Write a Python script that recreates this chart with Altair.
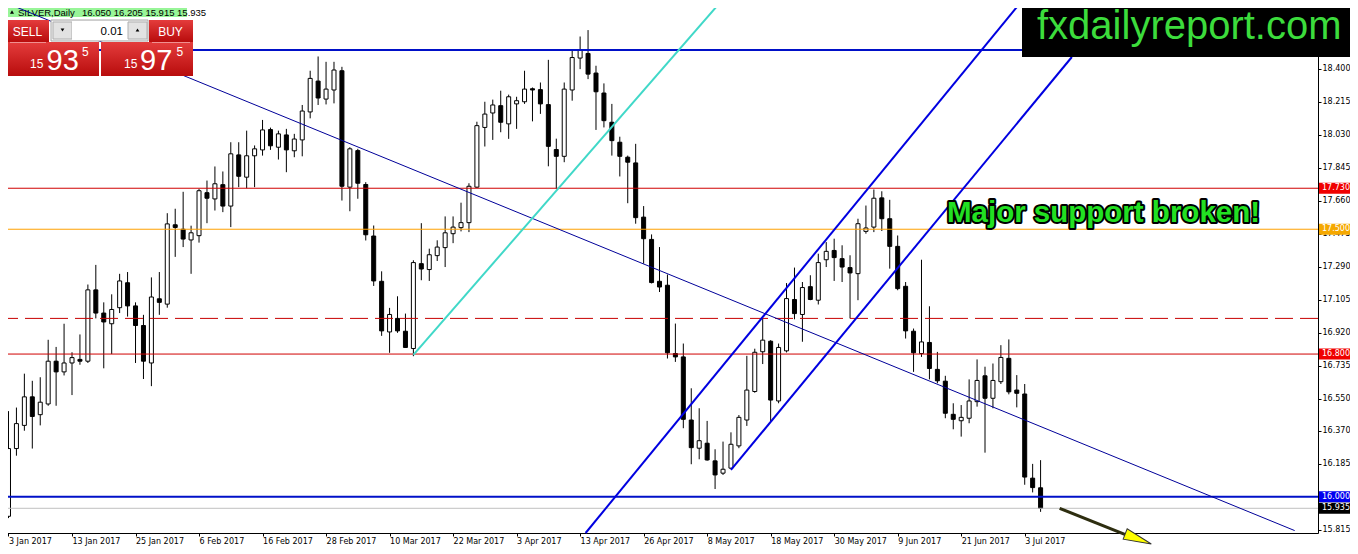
import altair as alt
import pandas as pd

# ---------------- data ----------------
opens = [15.89, 16.27, 16.40, 16.56, 16.46, 16.52, 16.76, 16.70, 16.75, 16.77,
         16.76, 17.16, 17.03, 16.97, 17.06, 17.20, 17.07, 16.96, 16.75, 17.11,
         17.08, 17.525, 17.50, 17.44, 17.464, 17.705, 17.67, 17.75, 17.63, 17.917,
         17.792, 17.912, 17.945, 18.059, 17.96, 18.029, 17.94, 18.001, 18.158, 18.331,
         18.23, 18.281, 18.389, 17.736, 17.941, 17.751, 17.462, 17.208, 16.924, 17.00,
         16.928, 16.831, 17.307, 17.274, 17.352, 17.397, 17.475, 17.509, 17.537, 17.736,
         18.071, 18.152, 18.193, 18.091, 18.203, 18.215, 18.288, 18.283, 18.199, 17.947,
         17.909, 18.281, 18.46, 18.486, 18.376, 18.264, 18.10, 17.988, 17.904, 17.872,
         17.568, 17.443, 17.208, 17.186, 16.803, 16.784, 16.43, 16.272, 16.30, 16.201,
         16.132, 16.16, 16.285, 16.43, 16.59, 16.813, 16.872, 16.537, 16.818, 17.106,
         17.022, 17.178, 17.102, 17.329, 17.381, 17.335, 17.285, 17.251, 17.488, 17.512,
         17.676, 17.559, 17.404, 17.18, 16.928, 16.803, 16.865, 16.714, 16.648, 16.462,
         16.426, 16.44, 16.533, 16.678, 16.552, 16.645, 16.776, 16.598, 16.576, 16.104,
         16.05]
highs = [16.48, 16.50, 16.69, 16.65, 16.67, 16.88, 16.84, 16.97, 16.81, 16.91,
         17.19, 17.30, 17.09, 17.135, 17.25, 17.26, 17.09, 17.02, 17.23, 17.26,
         17.59, 17.615, 17.71, 17.52, 17.727, 17.773, 17.852, 17.824, 17.988, 17.988,
         18.053, 17.97, 18.113, 18.07, 18.053, 18.063, 18.035, 18.197, 18.389, 18.469,
         18.439, 18.439, 18.411, 17.96, 17.951, 17.764, 17.521, 17.264, 17.059, 17.124,
         17.027, 17.326, 17.534, 17.391, 17.438, 17.572, 17.572, 17.649, 17.758, 18.103,
         18.215, 18.227, 18.277, 18.255, 18.243, 18.389, 18.295, 18.323, 18.45, 18.008,
         18.323, 18.51, 18.581, 18.617, 18.417, 18.318, 18.203, 18.019, 17.913, 17.979,
         17.63, 17.471, 17.40, 17.246, 16.971, 16.859, 16.608, 16.496, 16.425, 16.266,
         16.309, 16.361, 16.458, 16.79, 16.83, 16.999, 16.878, 16.859, 17.198, 17.285,
         17.204, 17.242, 17.363, 17.428, 17.447, 17.41, 17.354, 17.559, 17.633, 17.723,
         17.713, 17.665, 17.465, 17.204, 16.943, 17.329, 17.068, 16.812, 16.678, 16.524,
         16.514, 16.658, 16.77, 16.729, 16.747, 16.85, 16.882, 16.682, 16.632, 16.184,
         16.205]
lows = [15.88, 16.23, 16.37, 16.27, 16.40, 16.51, 16.51, 16.68, 16.57, 16.74,
        16.75, 17.00, 16.72, 16.80, 17.03, 17.01, 16.75, 16.66, 16.62, 17.02,
        17.06, 17.345, 17.40, 17.25, 17.425, 17.534, 17.605, 17.596, 17.512, 17.736,
        17.73, 17.736, 17.913, 17.945, 17.891, 17.82, 17.904, 17.909, 18.122, 18.197,
        18.20, 18.206, 17.661, 17.601, 17.671, 17.437, 17.182, 16.902, 16.807, 16.919,
        16.837, 16.788, 17.214, 17.21, 17.322, 17.288, 17.422, 17.488, 17.484, 17.732,
        17.964, 18.001, 18.044, 18.007, 18.063, 18.203, 18.105, 18.147, 17.853, 17.727,
        17.876, 18.221, 18.398, 18.342, 18.057, 18.071, 17.913, 17.796, 17.646, 17.531,
        17.307, 17.196, 17.148, 16.775, 16.756, 16.384, 16.182, 16.21, 16.202, 16.043,
        16.122, 16.156, 16.272, 16.397, 16.583, 16.744, 16.421, 16.524, 16.809, 16.995,
        16.869, 17.102, 17.078, 17.288, 17.21, 17.204, 17.00, 17.102, 17.475, 17.484,
        17.49, 17.279, 17.158, 16.887, 16.70, 16.784, 16.658, 16.636, 16.44, 16.378,
        16.337, 16.412, 16.505, 16.247, 16.496, 16.632, 16.574, 16.501, 16.067, 16.024,
        15.915]
closes = [16.27, 16.41, 16.56, 16.45, 16.53, 16.76, 16.70, 16.75, 16.78, 16.76,
          17.16, 17.03, 16.98, 17.05, 17.21, 17.07, 16.96, 16.76, 17.12, 17.09,
          17.53, 17.51, 17.445, 17.48, 17.716, 17.674, 17.755, 17.63, 17.923, 17.797,
          17.912, 17.951, 18.057, 17.968, 18.035, 17.945, 18.006, 18.163, 18.346, 18.236,
          18.286, 18.393, 17.741, 17.951, 17.758, 17.469, 17.21, 16.93, 17.022, 16.93,
          16.837, 17.313, 17.277, 17.357, 17.40, 17.48, 17.512, 17.537, 17.741, 18.081,
          18.146, 18.197, 18.10, 18.243, 18.221, 18.286, 18.281, 18.203, 17.965, 17.909,
          18.286, 18.463, 18.508, 18.37, 18.271, 18.109, 17.997, 17.909, 17.876, 17.565,
          17.447, 17.201, 17.176, 16.807, 16.784, 16.434, 16.275, 16.314, 16.206, 16.122,
          16.154, 16.294, 16.445, 16.598, 16.81, 16.878, 16.542, 16.837, 17.111, 17.027,
          17.173, 17.106, 17.313, 17.376, 17.341, 17.288, 17.255, 17.531, 17.507, 17.674,
          17.559, 17.404, 17.167, 16.93, 16.807, 16.868, 16.719, 16.65, 16.468, 16.434,
          16.445, 16.537, 16.652, 16.552, 16.652, 16.781, 16.588, 16.58, 16.11, 16.051,
          15.935]

date_labels = ["3 Jan 2017", "13 Jan 2017", "25 Jan 2017", "6 Feb 2017", "16 Feb 2017",
               "28 Feb 2017", "10 Mar 2017", "22 Mar 2017", "3 Apr 2017", "13 Apr 2017",
               "26 Apr 2017", "8 May 2017", "18 May 2017", "30 May 2017", "9 Jun 2017",
               "21 Jun 2017", "3 Jul 2017"]
date_tick_bars = [8 * k for k in range(len(date_labels))]

price_ticks = [18.400, 18.215, 18.030, 17.845, 17.660, 17.475, 17.290, 17.105,
               16.920, 16.735, 16.550, 16.370, 16.185, 16.000, 15.815]

level_prices = [18.505, 17.730, 17.500, 16.800, 16.000, 15.935]
level_colors = ["#0010C8", "#D00000", "#FFA000", "#D00000", "#0010C8", "#C0C0C0"]
level_widths = [2, 1, 1, 1, 2, 1]
dashed_level = 17.000

tag_prices = [17.730, 17.500, 16.800, 16.000, 15.935]
tag_colors = ["#F00000", "#F5A800", "#F00000", "#0000F0", "#000000"]

# trend lines: (bar index, price) endpoints
trend_names = ["resistance", "cyan", "channel_up", "channel_low"]
trend_x0 = [0.0, 51.0, 72.69, 91.0]
trend_p0 = [18.764, 16.795, 15.7964, 16.150]
trend_x1 = [162.0, 89.6, 127.53, 133.94]
trend_p1 = [15.810, 18.770, 18.7745, 18.466]
trend_colors = ["#000099", "#40D8C8", "#0000E0", "#0000E0"]
trend_widths = [1, 2, 2, 2]

arrow_x = [132.4, 141.0]
arrow_p = [15.935, 15.782]
arrow_head_x = [142.3]
arrow_head_p = [15.763]

# ---------------- chart ----------------
W, H = 1316, 531
FONT = "Liberation Sans"
AXFONT = "DejaVu Sans"

X = alt.Scale(domain=[-0.1875, 164.3125], nice=False, zero=False)
Y = alt.Scale(domain=[15.7964, 18.7745], nice=False, zero=False)

label_expr = "[" + ",".join("'%s'" % s for s in date_labels) + "][round(datum.value/8)]"

x_axis = alt.Axis(values=date_tick_bars, labelExpr=label_expr, orient="bottom",
                  tickSize=3, labelAlign="left", labelBaseline="top", labelPadding=1,
                  labelFont=AXFONT, labelFontSize=8, labelColor="black",
                  domainColor="black", tickColor="black", grid=False, title=None,
                  labelOverlap=False, labelBound=False, labelFlush=False)
y_axis = alt.Axis(values=price_ticks, format=".3f", orient="right", tickSize=3,
                  labelAlign="left", labelBaseline="middle", labelPadding=1,
                  labelFont=AXFONT, labelFontSize=8, labelColor="black",
                  domainColor="black", tickColor="black", grid=False, title=None,
                  labelOverlap=False, labelBound=False, labelFlush=False)


def xq(field):
    return alt.X(field, scale=X, axis=x_axis)


def yq(field):
    return alt.Y(field, scale=Y, axis=y_axis)


n = len(opens)
candles = pd.DataFrame({"i": list(range(n)), "open": opens, "high": highs,
                        "low": lows, "close": closes})
candles["dir"] = ["up" if c >= o else "down" for o, c in zip(opens, closes)]

wicks = alt.Chart(candles).mark_rule(color="black", strokeWidth=1).encode(
    x=xq("i:Q"), y=yq("low:Q"), y2="high:Q")
bodies = alt.Chart(candles).mark_bar(size=4, stroke="black", strokeWidth=1).encode(
    x=xq("i:Q"), y=yq("open:Q"), y2="close:Q",
    fill=alt.Fill("dir:N", scale=alt.Scale(domain=["up", "down"], range=["white", "black"]),
                  legend=None),
)

levels_df = pd.DataFrame({"p": level_prices, "c": level_colors, "w": level_widths})
levels = alt.Chart(levels_df).mark_rule().encode(
    y=yq("p:Q"),
    color=alt.Color("c:N", scale=None),
    strokeWidth=alt.StrokeWidth("w:Q", scale=None),
)
dashed = alt.Chart(pd.DataFrame({"p": [dashed_level]})).mark_rule(
    color="#C80000", strokeWidth=1, strokeDash=[18, 7]).encode(y=yq("p:Q"))

trend_layers = []
for k in range(len(trend_names)):
    tdf = pd.DataFrame({"x": [trend_x0[k], trend_x1[k]], "p": [trend_p0[k], trend_p1[k]]})
    trend_layers.append(
        alt.Chart(tdf).mark_line(color=trend_colors[k], strokeWidth=trend_widths[k]).encode(
            x=xq("x:Q"), y=yq("p:Q")))

arrow_line = alt.Chart(pd.DataFrame({"x": arrow_x, "p": arrow_p})).mark_line(
    color="#2E2E10", strokeWidth=3).encode(x=xq("x:Q"), y=yq("p:Q"))
arrow_head = alt.Chart(pd.DataFrame({"x": arrow_head_x, "p": arrow_head_p})).mark_point(
    shape="M1,0L-1,-0.4L-1,0.4Z", size=784, angle=21, filled=True, fill="#FFFF00",
    stroke="#333333", strokeWidth=1, opacity=1).encode(x=xq("x:Q"), y=yq("p:Q"))

# ------------- decorations in page pixel positions -------------
dummy = pd.DataFrame({"a": [0]})
OFF = 2  # page px -> plot px


def prect(x0, y0, x1, y1, **kw):
    return alt.Chart(dummy).mark_rect(**kw).encode(
        x=alt.value(x0 - OFF), x2=alt.value(x1 - OFF),
        y=alt.value(y0 - OFF), y2=alt.value(y1 - OFF))


def ptext(txt, x, y, size, color="black", align="left", weight="normal", font=FONT, **kw):
    return alt.Chart(dummy).mark_text(text=txt, align=align, baseline="alphabetic",
                                      fontSize=size, color=color, fontWeight=weight,
                                      font=font, **kw).encode(
        x=alt.value(x - OFF), y=alt.value(y - OFF))


def ppoint(x, y, shape, size, color):
    return alt.Chart(dummy).mark_point(shape=shape, size=size, filled=True, color=color,
                                       opacity=1).encode(
        x=alt.value(x - OFF), y=alt.value(y - OFF))


red_grad = {"gradient": "linear", "x1": 0, "x2": 0, "y1": 0, "y2": 1,
            "stops": [{"offset": 0, "color": "#E43C3C"}, {"offset": 1, "color": "#B80C0C"}]}

header = [
    prect(3, 2, 187, 17, fill="#98F598"),
    ppoint(12, 12, "triangle-up", 16, "black"),
    ptext("SILVER,Daily", 18, 16, 9.5),
    ptext("16.050 16.205 15.915 15.935", 82, 16, 9.5),
]

panel = [
    prect(6, 20, 49, 42, fill=red_grad),
    prect(149, 20, 193, 42, fill=red_grad),
    prect(51, 20, 148, 41, fill="#F2F2F2", stroke="#A8A8A8", strokeWidth=1),
    prect(53, 22, 72, 39, fill="#E2E2E2", stroke="#B0B0B0", strokeWidth=1),
    prect(72, 21, 128, 40, fill="white"),
    prect(128, 22, 147, 39, fill="#E2E2E2", stroke="#B0B0B0", strokeWidth=1),
    ppoint(62.5, 30, "triangle-down", 14, "black"),
    ppoint(137.5, 30, "triangle-up", 14, "black"),
    ptext("SELL", 27.5, 35.7, 12, color="white", align="center"),
    ptext("BUY", 170.5, 35.7, 12, color="white", align="center"),
    ptext("0.01", 123, 34.5, 11.5, align="right"),
    prect(6, 42, 99, 76, fill=red_grad),
    prect(101, 42, 193, 76, fill=red_grad),
    prect(10, 42, 46, 43, fill="#F09090"),
    prect(152, 42, 190, 43, fill="#F09090"),
    ptext("15", 30, 68.3, 12, color="white"),
    ptext("93", 46.5, 70, 29, color="white"),
    ptext("5", 82, 56, 12, color="white"),
    ptext("15", 124, 68.3, 12, color="white"),
    ptext("97", 140, 70, 29, color="white"),
    ptext("5", 176.5, 56, 12, color="white"),
]

msg = [
    ptext("Major support broken!", 947, 222, 29.5, color="black", weight="bold",
          stroke="black", strokeWidth=4, strokeJoin="round"),
    ptext("Major support broken!", 947, 222, 29.5, color="#22E022", weight="bold"),
]

logo = [
    prect(1022, 0, 1358, 57, fill="black"),
    ptext("fxdailyreport.com", 1037, 39, 40, color="#3CDC3C"),
]

tags_df = pd.DataFrame({"p": tag_prices, "c": tag_colors,
                        "t": ["%.3f" % v for v in tag_prices]})
tag_boxes = alt.Chart(tags_df).mark_point(
    shape="M-1,-0.3L1,-0.3L1,0.3L-1,0.3Z", size=1369, filled=True, opacity=1,
    strokeWidth=0).encode(
    x=alt.value(1337.5 - OFF), y=yq("p:Q"), color=alt.Color("c:N", scale=None))
tag_text = alt.Chart(tags_df).mark_text(
    align="left", baseline="middle", font=AXFONT, fontSize=8, color="white").encode(
    x=alt.value(1322 - OFF), y=yq("p:Q"), text="t:N")

chart = alt.layer(
    *header, wicks, bodies, levels, dashed, *trend_layers, arrow_line, arrow_head,
    *msg, *panel, *logo, tag_boxes, tag_text,
).properties(
    width=W, height=H,
    padding={"left": -6, "top": -6, "right": 32, "bottom": 13},
    autosize=alt.AutoSizeParams(type="none"),
).configure_view(stroke=None).configure_axis(labelOverlap=False)

chart.save("out.html", embed_options={"renderer": "svg", "actions": False})
